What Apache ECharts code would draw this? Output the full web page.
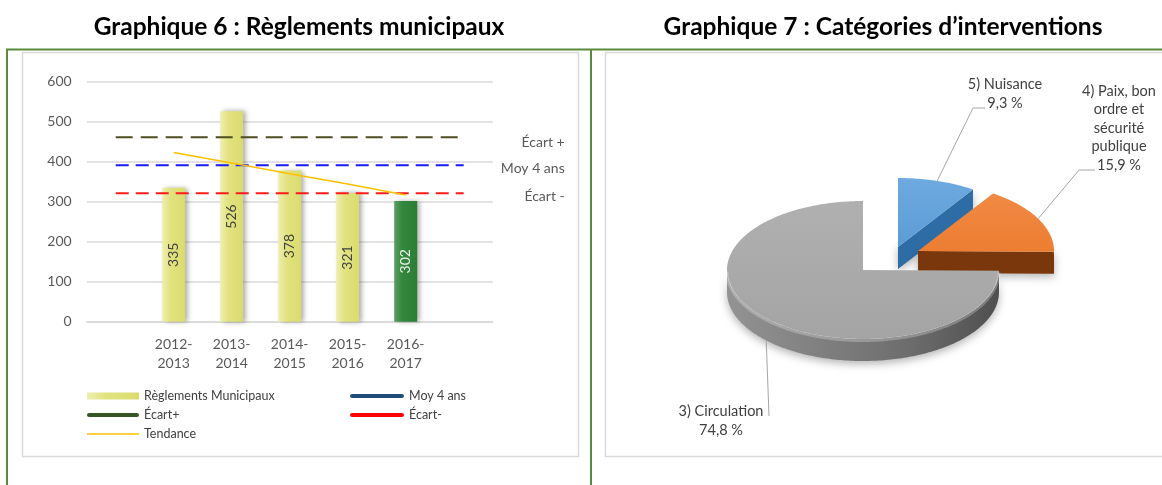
<!DOCTYPE html>
<html>
<head>
    <meta charset="utf-8">
    <title>Graphiques 6 et 7</title>
    <script src="https://cdn.jsdelivr.net/npm/echarts@6/dist/echarts.min.js"></script>
    <style>
        html, body { margin: 0; padding: 0; background: #fff; }
        #chart { width: 1162px; height: 485px; }
    </style>
</head>
<body>
<div id="chart"></div>
<script>
    // Graphique 6 : Règlements municipaux
    var periodes = ['2012-2013', '2013-2014', '2014-2015', '2015-2016', '2016-2017']
    var reglements = [335, 526, 378, 321, 302]
    var tendance = [423, 397, 370, 344, 317]
    var ecartPlus = 461
    var moy4ans = 391
    var ecartMoins = 321
    var yTicks = [0, 100, 200, 300, 400, 500, 600]

    // Graphique 7 : Catégories d'interventions (sens horaire depuis midi)
    var categories = ['5) Nuisance', '4) Paix, bon\nordre et\nsécurité\npublique', '3) Circulation']
    var pourcentages = [9.3, 15.9, 74.8]

    var FONT = 'Lato'
    var xCats = [''].concat(periodes).concat([''])

    function flat(v) {
        return xCats.map(function () { return v })
    }

    var jaune = new echarts.graphic.LinearGradient(0, 0, 1, 0, [
        {offset: 0, color: '#eeefb0'}, {offset: 0.35, color: '#e2e380'}, {offset: 1, color: '#dadb6e'}
    ])
    var vert = new echarts.graphic.LinearGradient(0, 0, 1, 0, [
        {offset: 0, color: '#5d9f64'}, {offset: 0.35, color: '#33873d'}, {offset: 1, color: '#2c7d35'}
    ])

    var barData = [null].concat(reglements.map(function (v, i) {
        if (i === reglements.length - 1) {
            return {value: v, itemStyle: {color: vert}, label: {color: '#eef5ee'}}
        }
        return v
    })).concat([null])

    // pie 3D look
    var PIE = {cx: 863, cy: 270, rx: 136, ry: 69, depth: 22}
    var pieStyle = [
        {top: '#5b9bd5', hi: '#6eaae0', side: '#2e6ca5', dx: 35, dy: -23, label: [1005, 94], leader: [[985, 108], [973, 108]]},
        {top: '#ed7d31', hi: '#f08a44', side: '#7a370b', dx: 55, dy: -19, label: [1119, 128], leader: [[1095, 170], [1079, 170]]},
        {top: '#a4a4a4', hi: '#b0b0b0', side: '#6f6f6f', dx: 0, dy: 0, label: [721, 421], leader: [[769, 416]]}
    ]

    function renderPie(params, api) {
        var i = params.dataIndex
        var total = 0, a0 = 0
        pourcentages.forEach(function (v) {
            total += v
        })
        for (var j = 0; j < i; j++) a0 += pourcentages[j] / total * 360
        var a1 = a0 + api.value(0) / total * 360
        var s = pieStyle[i]
        var ox = PIE.cx + s.dx, oy = PIE.cy + s.dy

        function pt(a, d) {
            var r = a * Math.PI / 180
            return [ox + PIE.rx * Math.sin(r), oy - PIE.ry * Math.cos(r) + d]
        }

        function arc(from, to, d) {
            var pts = [], n = Math.max(2, Math.ceil(Math.abs(to - from)))
            for (var k = 0; k <= n; k++) pts.push(pt(from + (to - from) * k / n, d))
            return pts
        }

        var children = []
        var shadow = {shadowBlur: 8, shadowColor: 'rgba(0,0,0,0.3)', shadowOffsetY: 3}
        // côté extérieur visible
        var s0 = Math.max(a0, 90), s1 = Math.min(a1, 270)
        if (s1 > s0) {
            children.push({
                type: 'polygon',
                shape: {points: arc(s0, s1, 0).concat(arc(s1, s0, PIE.depth))},
                style: Object.assign({
                    fill: new echarts.graphic.LinearGradient(1, 0, 0, 0, [
                        {offset: 0, color: '#4f4f4f'}, {offset: 0.35, color: '#6e6e6e'},
                        {offset: 0.75, color: '#858585'}, {offset: 1, color: '#939393'}
                    ])
                }, shadow)
            })
        }
        // faces radiales
        if (Math.sin(a1 * Math.PI / 180) > 0.01) {
            children.push({
                type: 'polygon',
                shape: {points: [[ox, oy], pt(a1, 0), pt(a1, PIE.depth), [ox, oy + PIE.depth]]},
                style: Object.assign({fill: s.side}, shadow)
            })
        }
        if (Math.sin(a0 * Math.PI / 180) < -0.01) {
            children.push({
                type: 'polygon',
                shape: {points: [[ox, oy], pt(a0, 0), pt(a0, PIE.depth), [ox, oy + PIE.depth]]},
                style: {fill: s.side}
            })
        }
        // dessus
        children.push({
            type: 'polygon',
            shape: {points: [[ox, oy]].concat(arc(a0, a1, 0))},
            style: {
                fill: new echarts.graphic.LinearGradient(0, 0, 0, 1, [
                    {offset: 0, color: s.hi}, {offset: 1, color: s.top}
                ])
            }
        })
        if (s1 > s0) {
            children.push({
                type: 'polyline',
                shape: {points: arc(s0, s1, 1.5)},
                style: {stroke: 'rgba(255,255,255,0.25)', lineWidth: 3, fill: 'none'}
            })
        }
        // étiquette + ligne de rappel
        var mid = (a0 + a1) / 2
        var end = pt(mid, (mid > 90 && mid < 270) ? PIE.depth : 0)
        children.push({
            type: 'polyline',
            shape: {points: s.leader.concat([end])},
            style: {stroke: '#a6a6a6', lineWidth: 1, fill: 'none'}
        })
        children.push({
            type: 'text',
            x: s.label[0],
            y: s.label[1],
            style: {
                text: categories[i] + '\n' + String(pourcentages[i]).replace('.', ',') + ' %',
                fill: '#404040',
                fontFamily: FONT,
                fontSize: 14.5,
                lineHeight: 18.5,
                align: 'center',
                verticalAlign: 'middle'
            }
        })
        return {type: 'group', children: children}
    }

    // étiquettes à droite des lignes pointillées
    function endLbl(text, shift) {
        return {
            show: true, formatter: text, align: 'right', distance: 101,
            verticalAlign: 'top', lineHeight: shift * 2,
            color: '#595959', fontSize: 14, fontFamily: FONT
        }
    }

    var lineIcon = 'path://M2,0H49A2,2 0 0 1 49,4H2A2,2 0 0 1 2,0Z'

    var myChart = echarts.init(document.getElementById('chart'))

    myChart.setOption({
        animation: false,
        backgroundColor: '#ffffff',
        textStyle: {fontFamily: FONT},
        graphic: [
            {type: 'text', x: 299, y: 27, style: {text: 'Graphique 6 : Règlements municipaux', font: 'bold 24.5px Lato', fill: '#000', align: 'center', verticalAlign: 'middle'}},
            {type: 'text', x: 883, y: 27, style: {text: 'Graphique 7 : Catégories d\u2019interventions', font: 'bold 24.5px Lato', fill: '#000', align: 'center', verticalAlign: 'middle'}},
            {type: 'rect', shape: {x: 22.5, y: 52.5, width: 556, height: 404}, style: {fill: 'none', stroke: '#d9d9d9', lineWidth: 1.5}},
            {type: 'rect', shape: {x: 605.5, y: 52.5, width: 560, height: 404}, style: {fill: 'none', stroke: '#d9d9d9', lineWidth: 1.5}},
            {type: 'line', shape: {x1: 6, y1: 49.5, x2: 1162, y2: 49.5}, style: {stroke: '#5a8a3c', lineWidth: 2}},
            {type: 'line', shape: {x1: 7, y1: 49, x2: 7, y2: 485}, style: {stroke: '#5a8a3c', lineWidth: 2}},
            {type: 'line', shape: {x1: 591, y1: 49, x2: 591, y2: 485}, style: {stroke: '#5a8a3c', lineWidth: 2}}
        ],
        legend: [{
            left: 82,
            top: 384,
            orient: 'vertical',
            itemWidth: 52,
            itemHeight: 7,
            itemGap: 5,
            textStyle: {fontSize: 12.5, color: '#404040', fontFamily: FONT, lineHeight: 14},
            data: [
                {name: 'Règlements Municipaux', icon: 'rect'},
                {name: 'Écart+', icon: lineIcon, itemStyle: {color: '#375623'}},
                {name: 'Tendance', icon: 'path://M0,0H51V1.5H0Z', itemStyle: {color: '#ffc000'}}
            ]
        }, {
            left: 345,
            top: 384,
            orient: 'vertical',
            itemWidth: 54,
            itemHeight: 7,
            itemGap: 5,
            textStyle: {fontSize: 12.5, color: '#404040', fontFamily: FONT, lineHeight: 14},
            data: [
                {name: 'Moy 4 ans', icon: lineIcon, itemStyle: {color: '#1f4e79'}},
                {name: 'Écart-', icon: lineIcon, itemStyle: {color: '#ff0000'}}
            ]
        }],
        grid: {left: 86.7, right: 669.3, top: 81.7, bottom: 163.3},
        xAxis: {
            type: 'category',
            data: xCats,
            axisLine: {lineStyle: {color: '#d9d9d9', width: 1.5}},
            axisTick: {show: false},
            axisLabel: {
                interval: 0,
                margin: 14,
                fontSize: 14,
                lineHeight: 18.5,
                color: '#595959',
                formatter: function (v) { return v.replace('-', '-\n') }
            }
        },
        yAxis: {
            type: 'value',
            min: yTicks[0],
            max: yTicks[yTicks.length - 1],
            interval: yTicks[1] - yTicks[0],
            axisLine: {show: false},
            axisTick: {show: false},
            splitLine: {lineStyle: {color: '#d9d9d9', width: 1.5}},
            axisLabel: {fontSize: 14, color: '#595959', margin: 15}
        },
        series: [{
            name: 'Règlements Municipaux',
            type: 'bar',
            data: barData,
            barWidth: 23,
            itemStyle: {color: jaune, shadowColor: 'rgba(0,0,0,0.35)', shadowBlur: 5, shadowOffsetX: 3},
            label: {show: true, position: 'inside', rotate: 90, fontSize: 14, color: '#404040', fontFamily: FONT},
            z: 2
        }, {
            name: 'Écart+',
            type: 'line',
            data: flat(ecartPlus),
            symbol: 'none',
            lineStyle: {color: '#4e4e22', width: 2, type: [17, 8]},
            itemStyle: {color: '#4e4e22'},
            endLabel: endLbl('Écart +', 5),
            z: 3
        }, {
            name: 'Moy 4 ans',
            type: 'line',
            data: flat(moy4ans),
            symbol: 'none',
            lineStyle: {color: '#1a1aff', width: 2, type: [13, 7]},
            itemStyle: {color: '#1a1aff'},
            endLabel: endLbl('Moy 4 ans', 3),
            z: 3
        }, {
            name: 'Écart-',
            type: 'line',
            data: flat(ecartMoins),
            symbol: 'none',
            lineStyle: {color: '#ff1a1a', width: 2, type: [13, 7]},
            itemStyle: {color: '#ff1a1a'},
            endLabel: endLbl('Écart -', 3.5),
            z: 3
        }, {
            name: 'Tendance',
            type: 'line',
            data: [null].concat(tendance).concat([null]),
            symbol: 'none',
            lineStyle: {color: '#ffc000', width: 1.5},
            itemStyle: {color: '#ffc000'},
            z: 4
        }, {
            name: 'Catégories',
            type: 'custom',
            coordinateSystem: 'none',
            renderItem: renderPie,
            data: pourcentages,
            silent: true
        }]
    })
</script>
</body>
</html>
